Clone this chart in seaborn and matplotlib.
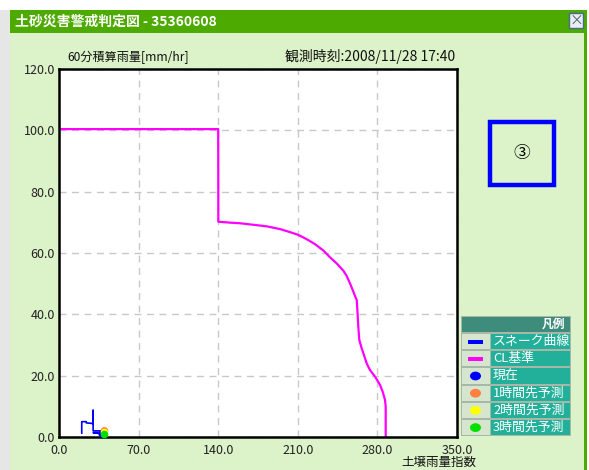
import matplotlib
matplotlib.use("Agg")
import matplotlib.pyplot as plt
import seaborn as sns
import pandas as pd
from matplotlib.patches import Rectangle, Circle
from matplotlib.ticker import FixedLocator

sns.set_theme(style="white")
plt.rcParams['font.family'] = ['Noto Sans CJK JP', 'DejaVu Sans']

# ---- data ----
cl_x = [0, 140, 140.1, 150.4, 159.2, 170.9, 182.6, 194.4, 203.2, 210.5, 217.8, 225.1, 232.5,
        238.3, 244.2, 250.1, 253.0, 255.9, 258.3, 260.3, 261.8, 262.4, 263.2, 264.1, 266.2,
        268.2, 270.6, 273.5, 277.9, 282.3, 284.6, 286.7, 287.3, 287.3]
cl_y = [100.4, 100.4, 70.2, 69.9, 69.7, 69.2, 68.7, 67.8, 66.8, 65.9, 64.5, 62.9, 60.8,
        58.6, 56.6, 54.2, 52.5, 50.1, 47.9, 46.0, 44.7, 41.4, 36.0, 31.6, 28.9,
        26.7, 24.0, 21.8, 19.7, 17.0, 14.8, 12.1, 9.9, 0]
snake_x = [20, 20, 24, 24, 30, 30, 30, 37, 37, 30, 38]
snake_y = [1.2, 5.0, 5.0, 4.6, 4.4, 8.7, 2.0, 2.0, 1.4, 1.4, 1.0]
pred_x = [38, 40, 40, 40]
pred_y = [1.0, 2.0, 1.5, 0.8]
pred_names = ["現在", "1時間先予測", "2時間先予測", "3時間先予測"]
pred_colors = ["#0000FF", "#FF8040", "#FFFF00", "#00E000"]
xticks = [0, 70, 140, 210, 280, 350]
yticks = [0, 20, 40, 60, 80, 100, 120]
legend_labels = ["スネーク曲線", "CL基準"] + pred_names

W, H = 589, 470
fig = plt.figure(figsize=(W / 100, H / 100), dpi=100, facecolor="white")

def fx(px):
    return px / W

def fy(py):
    return 1 - py / H

def frect(x0, y0, x1, y1, zorder=-5, **kw):
    fig.patches.append(Rectangle((fx(x0), fy(y1)), (x1 - x0) / W, (y1 - y0) / H,
                                 transform=fig.transFigure, figure=fig, zorder=zorder, **kw))

BG = "#DCF2C8"
# window
frect(0, 10, 10, 470, facecolor="#E6E6E6", edgecolor="none")
frect(10, 10, 586, 470, facecolor=BG, edgecolor="none")
frect(584, 10, 587, 470, facecolor="#4CAA00", edgecolor="none")
frect(10, 10, 586, 33, facecolor="#4CAA00", edgecolor="none")
fig.text(fx(15), fy(21.5), "土砂災害警戒判定図 - 35360608", color="white",
         fontsize=10, fontweight="bold", va="center", ha="left")
# close button
frect(569, 13, 583, 28, zorder=2, facecolor="#E8EEF4", edgecolor="#4A6A8A", linewidth=1)
fig.text(fx(576), fy(20.5), "×", color="#506070", fontsize=10, ha="center", va="center", zorder=3)

# ---- axes ----
ax = fig.add_axes([fx(59), fy(437), (457 - 59) / W, (437 - 69) / H])
ax.set_facecolor("white")
sns.lineplot(x=cl_x, y=cl_y, sort=False, estimator=None, color="#FF00FF", linewidth=1.6, ax=ax)
sns.lineplot(x=snake_x, y=snake_y, sort=False, estimator=None, color="#0000FF", linewidth=1.2, ax=ax)
df = pd.DataFrame({"x": pred_x, "y": pred_y, "name": pred_names})
sns.scatterplot(data=df, x="x", y="y", hue="name", palette=dict(zip(pred_names, pred_colors)),
                s=30, edgecolor="none", legend=False, ax=ax, zorder=5, clip_on=False)
ax.set_xlim(0, 350)
ax.set_ylim(0, 120)
ax.xaxis.set_major_locator(FixedLocator(xticks))
ax.yaxis.set_major_locator(FixedLocator(yticks))
ax.set_xticklabels([f"{v:.1f}" for v in xticks], fontsize=9, color="#222222")
ax.set_yticklabels([f"{v:.1f}" for v in yticks], fontsize=9, color="#222222")
ax.tick_params(axis="both", direction="in", length=4, width=1.5, color="black", pad=3)
ax.tick_params(axis="x", pad=5)
ax.grid(True, linestyle=(0, (5, 4)), color="#C8C8C8", linewidth=1)
for sp in ax.spines.values():
    sp.set_color("black")
    sp.set_linewidth(1.8)
ax.set_xlabel("")
ax.set_ylabel("")

fig.text(fx(67), fy(57), "60分積算雨量[mm/hr]", fontsize=8.7, ha="left", va="center", color="#111111")
fig.text(fx(455), fy(57), "観測時刻:2008/11/28 17:40", fontsize=10, ha="right", va="center", color="#111111")
fig.text(fx(476), fy(462), "土壌雨量指数", fontsize=9, ha="right", va="center", color="#111111")

# ---- annotation box ----
frect(490, 122, 554, 185, zorder=2, facecolor="none", edgecolor="#0000FF", linewidth=3.2)
fig.text(fx(522), fy(153), "③", fontsize=12, ha="center", va="center", color="black")

# ---- legend ----
LX0, LX1, LXM = 461, 571, 491
LY0 = 316
hdr = 17
row = 17.2
frect(LX0, LY0, LX1, LY0 + hdr + 6 * row, zorder=2, facecolor="#A8B8A8", edgecolor="none")
frect(LX0 + 1, LY0 + 1, LX1 - 1, LY0 + hdr - 1, zorder=3, facecolor="#3E8C7C", edgecolor="none")
fig.text(fx(LX1 - 6), fy(LY0 + hdr / 2), "凡例", fontsize=8.5, fontweight="bold",
         color="white", ha="right", va="center", zorder=4)
for i, lab in enumerate(legend_labels):
    y0 = LY0 + hdr + i * row
    frect(LX0 + 1, y0 + 1, LXM - 1, y0 + row - 1, zorder=3, facecolor="#D6E6CE", edgecolor="none")
    frect(LXM, y0 + 1, LX1 - 1, y0 + row - 1, zorder=3, facecolor="#23B09A", edgecolor="none")
    cy = y0 + row / 2
    if i == 0:
        frect(468, cy - 2, 483, cy + 2, zorder=4, facecolor="#0000FF", edgecolor="none")
    elif i == 1:
        frect(468, cy - 2, 483, cy + 2, zorder=4, facecolor="#FF00FF", edgecolor="none")
    else:
        fig.patches.append(Circle((fx(475.5), fy(cy)), 5.5 / W, transform=fig.transFigure,
                                  figure=fig, zorder=4, facecolor=pred_colors[i - 2], edgecolor="none"))
    fig.text(fx(LXM + 2), fy(cy), lab, fontsize=9.3, color="white", ha="left", va="center", zorder=5)

fig.savefig("out.png", dpi=100, facecolor="white")
